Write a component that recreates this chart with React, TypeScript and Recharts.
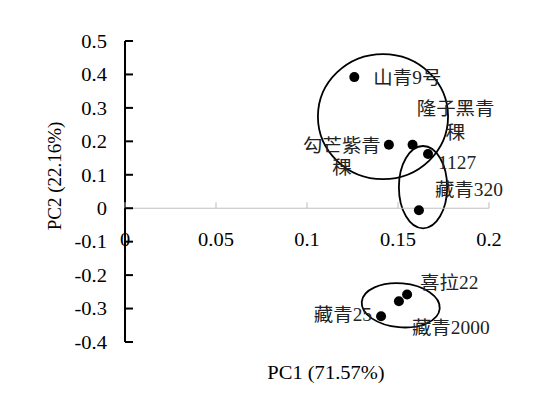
import React from 'react'
import {
  ScatterChart, Scatter, XAxis, YAxis, ReferenceLine, ReferenceArea,
} from 'recharts'

// PCA scores
const names = ['山青9号', '勾芒紫青稞', '隆子黑青稞', '1127', '藏青320', '喜拉22', '藏青2000', '藏青25']
const pc1 = [0.126, 0.145, 0.158, 0.1665, 0.1615, 0.155, 0.1505, 0.1407]
const pc2 = [0.392, 0.19, 0.19, 0.162, -0.006, -0.258, -0.278, -0.323]

const xTicks = [0, 0.05, 0.1, 0.15, 0.2]
const yTicks = [-0.4, -0.3, -0.2, -0.1, 0, 0.1, 0.2, 0.3, 0.4, 0.5]

// cluster outlines, in data units
const groupX1 = [0.106, 0.1505, 0.13]
const groupX2 = [0.1775, 0.177, 0.173]
const groupY1 = [0.087, -0.06, -0.356]
const groupY2 = [0.461, 0.186, -0.2245]

const FONT = '"Liberation Serif", "Times New Roman", "Noto Sans CJK SC", serif'
const W = 552
const H = 396
const TOP = 41
const BOTTOM = 54
const LEFT = 125
const RIGHT = 63
const PLOT_H = H - TOP - BOTTOM
const SX = 1.08 // the source picture is a little wider than tall
const Y_MARGIN = 18

// text stretched sideways like the original
function T({ x, y, anchor = 'start', size = 19, fill = '#000', children }: any) {
  return (
    <text
      transform={`translate(${x} ${y}) scale(${SX} 1)`}
      textAnchor={anchor}
      dominantBaseline="central"
      fontSize={size}
      fontFamily={FONT}
      fill={fill}
    >
      {children}
    </text>
  )
}

// where each name sits next to its dot
const labelPos: Record<string, { dx: number; dy: number; anchor: string; lines: string[]; lh?: number }> = {
  '山青9号': { dx: 19, dy: 1, anchor: 'start', lines: ['山青9号'] },
  '勾芒紫青稞': { dx: -47, dy: 1, anchor: 'middle', lines: ['勾芒紫青', '稞'], lh: 22 },
  '隆子黑青稞': { dx: 43, dy: -36, anchor: 'middle', lines: ['隆子黑青', '稞'], lh: 24 },
  '1127': { dx: 10, dy: 9, anchor: 'start', lines: ['1127'] },
  '藏青320': { dx: 16, dy: -20, anchor: 'start', lines: ['藏青320'] },
  '喜拉22': { dx: 13, dy: -12, anchor: 'start', lines: ['喜拉22'] },
  '藏青2000': { dx: 13, dy: 27, anchor: 'start', lines: ['藏青2000'] },
  '藏青25': { dx: -9, dy: -1, anchor: 'end', lines: ['藏青25'] },
}

const points = names.map((n, i) => ({ name: n, x: pc1[i], y: pc2[i] }))

const fmt = (v: number) => (v === 0 ? '0' : String(v))

function Dot(props: any) {
  const { cx, cy, payload } = props
  const p = labelPos[payload.name]
  return (
    <g>
      <circle cx={cx} cy={cy} r={5} fill="#000" />
      {p.lines.map((t, k) => (
        <T key={k} x={cx + p.dx} y={cy + p.dy + k * (p.lh || 0)} anchor={p.anchor} size={18} fill="#222">
          {t}
        </T>
      ))}
    </g>
  )
}

function YTick(props: any) {
  const { x, y, payload } = props
  // tick marks point inward, into the plot
  const ax = x + Y_MARGIN
  return (
    <g>
      <path d={`M${ax},${y}H${ax + 8}`} stroke="#000" strokeWidth={2} fill="none" />
      <T x={x} y={y} anchor="end">{fmt(payload.value)}</T>
    </g>
  )
}

function XTick(props: any) {
  const { x, y, payload } = props
  // y is the plot bottom; the zero line sits 0.4/0.9 of the plot height above it
  const zeroY = y - (PLOT_H * 0.4) / 0.9
  return (
    <g>
      <path d={`M${x},${zeroY - 6}V${zeroY}`} stroke="#bbbbbb" strokeWidth={1} fill="none" />
      <T x={x} y={zeroY + 31} anchor="middle">{fmt(payload.value)}</T>
    </g>
  )
}

const ellipseShape = (rot: number) => (props: any) => {
  const { x, y, width, height } = props
  const cx = x + width / 2
  const cy = y + height / 2
  return (
    <ellipse
      cx={cx}
      cy={cy}
      rx={width / 2}
      ry={height / 2}
      transform={`rotate(${rot} ${cx} ${cy})`}
      fill="none"
      stroke="#000"
      strokeWidth={1.8}
    />
  )
}
const groupRot = [0, 0, 5]

export default function App() {
  return (
    <div style={{ position: 'absolute', left: 0, top: 0, width: W, height: H, background: '#fff' }}>
      <ScatterChart width={W} height={H} margin={{ top: TOP, right: RIGHT, bottom: 0, left: 0 }}>
        <XAxis
          type="number"
          dataKey="x"
          domain={[0, 0.2]}
          ticks={xTicks}
          axisLine={false}
          tickLine={false}
          tickSize={0}
          tickMargin={0}
          height={BOTTOM}
          tick={<XTick />}
          label={{
            content: () => <T x={326} y={372} anchor="middle">PC1 (71.57%)</T>,
          }}
        />
        <ReferenceLine y={0} stroke="#c0c0c0" strokeWidth={1} />
        {groupX1.map((_, i) => (
          <ReferenceArea
            key={i}
            x1={groupX1[i]}
            x2={groupX2[i]}
            y1={groupY1[i]}
            y2={groupY2[i]}
            shape={ellipseShape(groupRot[i])}
          />
        ))}
        <YAxis
          type="number"
          dataKey="y"
          domain={[-0.4, 0.5]}
          ticks={yTicks}
          width={LEFT}
          axisLine={{ stroke: '#000', strokeWidth: 2 }}
          tickLine={false}
          tickSize={0}
          tickMargin={Y_MARGIN}
          tick={<YTick />}
          label={{
            content: () => (
              <text
                x={54}
                y={176}
                textAnchor="middle"
                dominantBaseline="central"
                fontSize={19}
                fontFamily={FONT}
                fill="#000"
                transform="rotate(-90 54 176)"
              >
                PC2 (22.16%)
              </text>
            ),
          }}
        />
        <Scatter data={points} shape={<Dot />} isAnimationActive={false} />
      </ScatterChart>
    </div>
  )
}
